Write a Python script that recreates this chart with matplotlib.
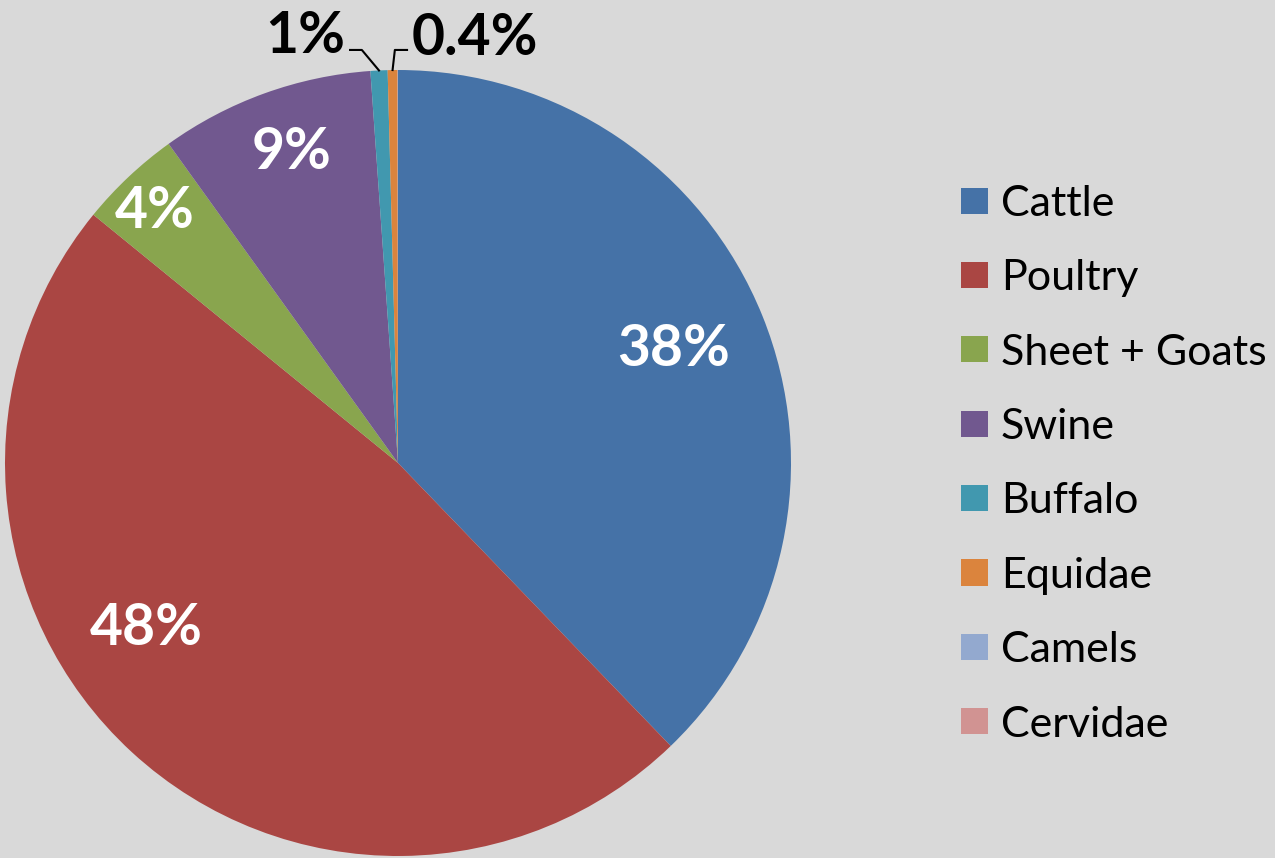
import numpy as np
import matplotlib.pyplot as plt

# ---- data ----
animals = ["Cattle", "Poultry", "Sheet + Goats", "Swine", "Buffalo", "Equidae", "Camels", "Cervidae"]
shares = [37.8, 48.1, 4.2, 8.8, 0.7, 0.4, 0.01, 0.01]
pct_labels = ["38%", "48%", "4%", "9%", "1%", "0.4%", "", ""]
colors = ["#4572A7", "#AA4643", "#89A54E", "#71588F", "#4198AF", "#DB843D", "#93A9CF", "#D19392"]

# label positions (data coords, pie radius = 1)
inside_pos = [(0.70, 0.29), (-0.64, -0.42), (-0.62, 0.64), (-0.27, 0.79)]
outside_pos = {4: (-0.237, 1.085), 5: (0.196, 1.080)}
elbows = {4: [(-0.122, 1.051), (-0.092, 1.051)], 5: [(0.023, 1.051), (-0.008, 1.051)]}

BG = "#D9D9D9"
fig = plt.figure(figsize=(12.75, 8.58), dpi=100, facecolor=BG)
ax = fig.add_axes([5 / 1275, 2 / 858, 786 / 1275, 786 / 858])
ax.set_facecolor(BG)

wedges, _ = ax.pie(shares, colors=colors, startangle=90, counterclock=False,
                   radius=1, wedgeprops=dict(linewidth=0))
ax.set_xlim(-1, 1)
ax.set_ylim(-1, 1)
ax.set_aspect("auto")
ax.axis("off")

for i, (x, y) in enumerate(inside_pos):
    ax.text(x, y, pct_labels[i], color="white", fontsize=41, fontweight="bold",
            family="Lato", ha="center", va="center")

# small slices: labels outside with leader lines
total = sum(shares)
start = 90.0
for i, s in enumerate(shares):
    theta = start - s / total * 360 / 2
    start -= s / total * 360
    if i in outside_pos:
        px, py = np.cos(np.radians(theta)), np.sin(np.radians(theta))
        pts = elbows[i] + [(px, py)]
        ax.plot([p[0] for p in pts], [p[1] for p in pts], color="black", lw=1.5,
                clip_on=False)
        ax.text(*outside_pos[i], pct_labels[i], color="black", fontsize=41,
                fontweight="bold", family="Lato", ha="center", va="center")

fig.legend(wedges, animals, loc="center left", bbox_to_anchor=(961 / 1275, 0.459),
           frameon=False, prop=dict(family="Lato", size=31),
           handlelength=0.63, handleheight=0.56, handletextpad=0.30,
           labelspacing=0.845, borderpad=0, borderaxespad=0)

fig.savefig("out.png", dpi=100, facecolor=BG)
